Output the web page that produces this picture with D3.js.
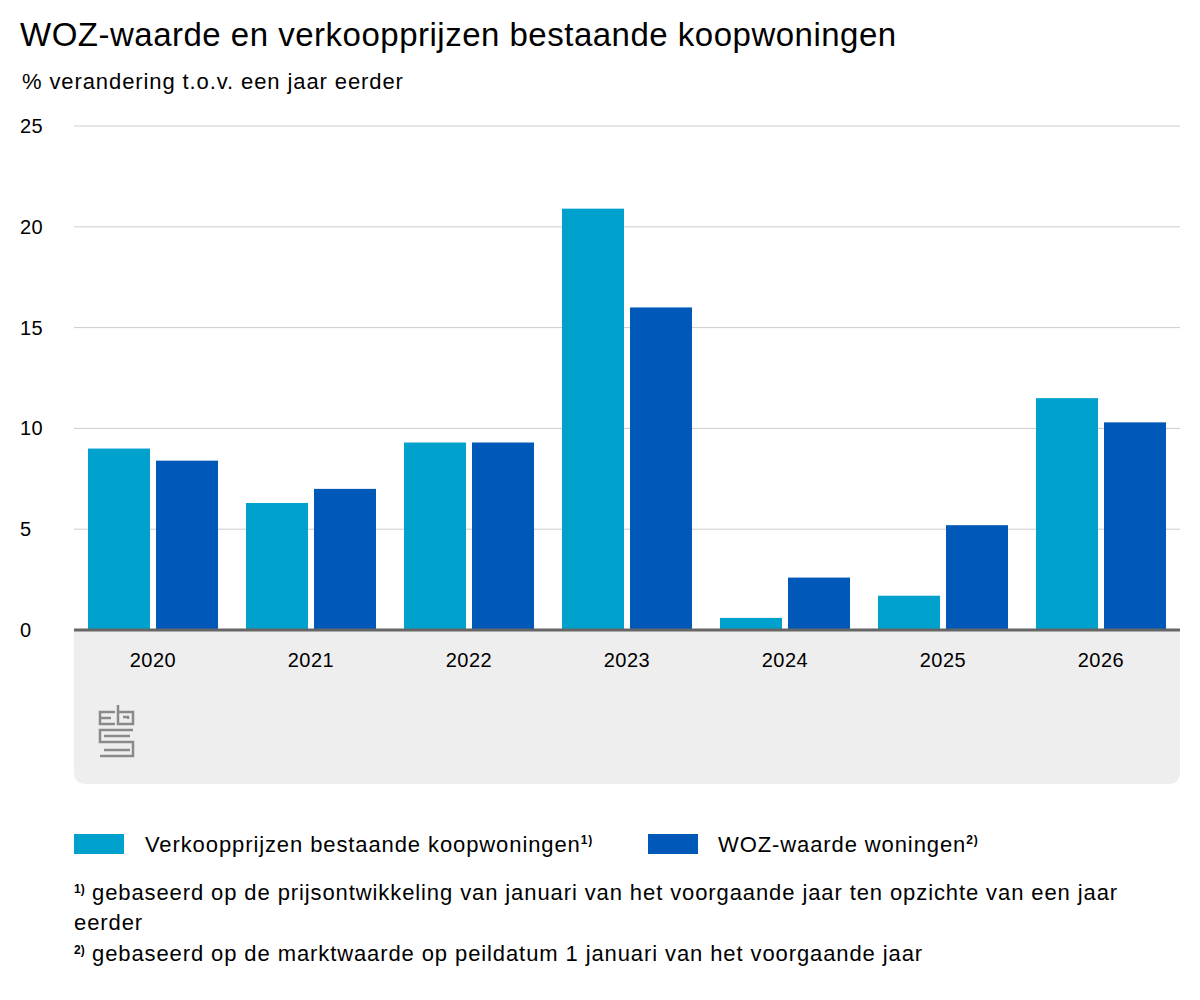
<!DOCTYPE html>
<html lang="nl">
<head>
<meta charset="UTF-8">
<title>WOZ-waarde en verkoopprijzen</title>
<style>
  body { margin: 0; background: #fff; font-family: "Liberation Sans", Arial, sans-serif; }
  text { font-family: "Liberation Sans", Arial, sans-serif; fill: #000; }
  .body { letter-spacing: 0.9px; }
</style>
</head>
<body>
<svg width="1200" height="1000"></svg>
<script src="https://d3js.org/d3.v7.min.js"></script>
<script>
const years = ["2020", "2021", "2022", "2023", "2024", "2025", "2026"];
const verkoop = [9.0, 6.3, 9.3, 20.9, 0.6, 1.7, 11.5];
const woz = [8.4, 7.0, 9.3, 16.0, 2.6, 5.2, 10.3];
const yTicks = [0, 5, 10, 15, 20, 25];

const svg = d3.select("svg");

svg.append("text").attr("x", 20).attr("y", 46).attr("font-size", 33).attr("letter-spacing", 0.5)
  .text("WOZ-waarde en verkoopprijzen bestaande koopwoningen");
svg.append("text").attr("class", "body").attr("x", 22).attr("y", 89).attr("font-size", 22)
  .text("% verandering t.o.v. een jaar eerder");

const x = d3.scaleBand().domain(years).range([74, 1180]).paddingInner(0).paddingOuter(0);
const y = d3.scaleLinear().domain([0, 25]).range([630, 126]);

// grey footer panel
svg.append("path")
  .attr("d", "M74,630 H1180 V772 Q1180,784 1168,784 H86 Q74,784 74,772 Z")
  .attr("fill", "#eeeeee");

// gridlines + labels
svg.append("g").selectAll("line").data(yTicks.filter(d => d > 0)).join("line")
  .attr("x1", 74).attr("x2", 1180).attr("y1", d => y(d)).attr("y2", d => y(d))
  .attr("stroke", "#cccccc").attr("stroke-width", 1);
svg.append("g").selectAll("text").data(yTicks).join("text")
  .attr("x", 20).attr("y", d => y(d) + 7).attr("font-size", 20).attr("letter-spacing", 0.5).text(d => d);

const barW = 62;
const g = svg.append("g");
g.selectAll(".v").data(verkoop).join("rect")
  .attr("x", (d, i) => x(years[i]) + x.bandwidth() / 2 - barW - 3)
  .attr("y", d => y(d)).attr("width", barW).attr("height", d => y(0) - y(d))
  .attr("fill", "#00a1cd");
g.selectAll(".w").data(woz).join("rect")
  .attr("x", (d, i) => x(years[i]) + x.bandwidth() / 2 + 3)
  .attr("y", d => y(d)).attr("width", barW).attr("height", d => y(0) - y(d))
  .attr("fill", "#0058b8");

svg.append("line").attr("x1", 74).attr("x2", 1180).attr("y1", 630).attr("y2", 630)
  .attr("stroke", "#666").attr("stroke-width", 3);

svg.append("g").selectAll("text").data(years).join("text")
  .attr("x", d => x(d) + x.bandwidth() / 2).attr("y", 667)
  .attr("text-anchor", "middle").attr("font-size", 20).attr("letter-spacing", 0.5).text(d => d);

// cbs logo (simplified)
const logo = svg.append("g").attr("fill", "none").attr("stroke", "#8a8a8a").attr("stroke-width", 2.5);
logo.append("path").attr("d", "M115,712 H100 V724 H115 M100,718 H111");
logo.append("path").attr("d", "M118,705 V724 H133 V712 H118 M123,717 H128 V719");
logo.append("path").attr("d", "M133,730 H100 V742 H133 V756 H100 M104,736 H130 M104,750 H130");

// legend
svg.append("rect").attr("x", 74).attr("y", 834).attr("width", 50).attr("height", 20).attr("fill", "#00a1cd");
svg.append("text").attr("class", "body").attr("x", 145).attr("y", 852).attr("font-size", 22)
  .html('Verkoopprijzen bestaande koopwoningen<tspan font-size="12" font-weight="bold" dy="-8">1)</tspan>');
svg.append("rect").attr("x", 648).attr("y", 834).attr("width", 50).attr("height", 20).attr("fill", "#0058b8");
svg.append("text").attr("class", "body").attr("x", 718).attr("y", 852).attr("font-size", 22)
  .html('WOZ-waarde woningen<tspan font-size="12" font-weight="bold" dy="-8">2)</tspan>');

// footnotes
const notes = [
  [900, "1)", "gebaseerd op de prijsontwikkeling van januari van het voorgaande jaar ten opzichte van een jaar"],
  [930, null, "eerder"],
  [961, "2)", "gebaseerd op de marktwaarde op peildatum 1 januari van het voorgaande jaar"]
];
notes.forEach(([yy, sup, t]) => {
  if (sup) svg.append("text").attr("x", 74).attr("y", yy - 7).attr("font-size", 12).attr("font-weight", "bold").text(sup);
  svg.append("text").attr("class", "body").attr("x", sup ? 92 : 74).attr("y", yy).attr("font-size", 22).text(t);
});
</script>
</body>
</html>
